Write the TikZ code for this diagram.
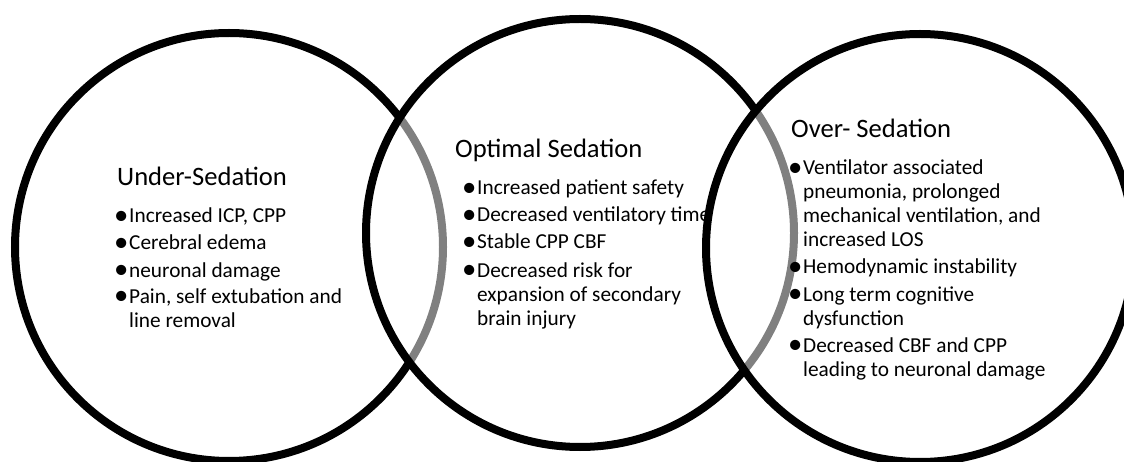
\documentclass[tikz,border=0pt]{standalone}
\usepackage{fontspec}
\setmainfont{Carlito}
\usepackage{tikz}

\tikzset{
  venn/.style={circle, draw, line width=8pt, fill=white, fill opacity=0.5,
    draw opacity=1, minimum size=428pt, inner sep=0pt},
  heading/.style={anchor=base west, inner sep=0pt, font=\fontsize{26.6}{30}\selectfont},
  entry/.style={anchor=base west, inner sep=0pt, align=left, font=\fontsize{21.3}{24}\selectfont}
}
% bullet box and hanging indent; a multi-line entry sits on its last baseline
\newcommand{\bul}{\makebox[12pt][l]{\makebox[8pt]{\smash{\raisebox{-1.5pt}{\scalebox{1.35}{\textbullet}}}}}}
\newcommand{\ind}{\hspace*{12pt}}

\begin{document}
\begin{tikzpicture}[x=1pt, y=-1pt]
                    \useasboundingbox (0,0) rectangle (1124,462);
                    \clip (0,0) rectangle (1124,462);

                    \node[venn] (Circle1) at (229,247) {};
                    \node[venn] (Circle2) at (580,233) {};
                    \node[venn] (Circle3) at (920,248) {};

                    \node[heading] (Title1) at (117,186) {Under-Sedation};
                    \node[entry] (Under1) at (117,222.7) {\bul Increased ICP, CPP};
                    \node[entry] (Under2) at (117,250) {\bul Cerebral edema};
                    \node[entry] (Under3) at (117,277) {\bul neuronal damage};
                    \node[entry] (Under4) at (117,327) {\bul Pain, self extubation and\\ \ind line removal};

                    \node[heading] (Title2) at (455,158) {Optimal Sedation};
                    \node[entry] (Optimal1) at (465,195) {\bul Increased patient safety};
                    \node[entry] (Optimal2) at (465,222) {\bul Decreased ventilatory time};
                    \node[entry] (Optimal3) at (465,249) {\bul Stable CPP CBF};
                    \node[entry] (Optimal4) at (465,325) {\bul Decreased risk for\\ \ind expansion of secondary\\ \ind brain injury};

                    \node[heading] (Title3) at (791,138) {Over- Sedation};
                    \node[entry] (Over1) at (791,247) {\bul Ventilator associated\\ \ind pneumonia, prolonged\\ \ind mechanical ventilation, and\\ \ind increased LOS};
                    \node[entry] (Over2) at (791,274) {\bul Hemodynamic instability};
                    \node[entry] (Over3) at (791,325) {\bul Long term cognitive\\ \ind dysfunction};
                    \node[entry] (Over4) at (791,376) {\bul Decreased CBF and CPP\\ \ind leading to neuronal damage};
                \end{tikzpicture}
\end{document}
